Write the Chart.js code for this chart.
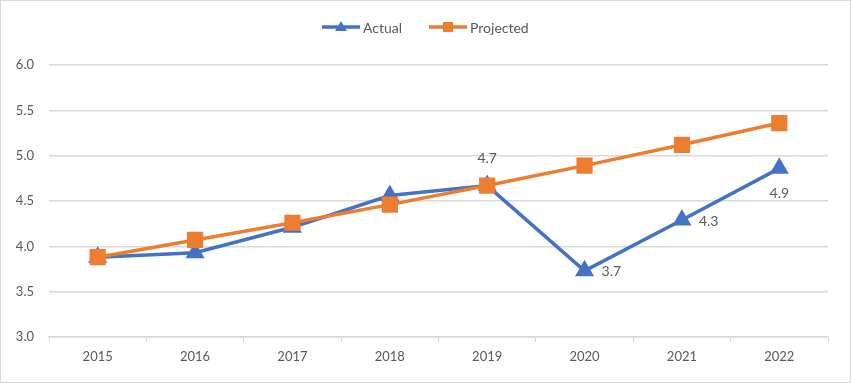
<!DOCTYPE html>
<html><head><meta charset="utf-8">
<script src="https://cdn.jsdelivr.net/npm/chart.js@4"></script>
<style>html,body{margin:0;padding:0;background:#fff}#wrap{width:851px;height:383px;position:relative}</style>
</head><body><div id="wrap"><canvas id="c" width="851" height="383"></canvas></div>
<script>
const categories = ['2015','2016','2017','2018','2019','2020','2021','2022'];
const actual = [3.88, 3.93, 4.21, 4.56, 4.67, 3.73, 4.29, 4.86];
const projected = [3.88, 4.07, 4.26, 4.46, 4.67, 4.89, 5.12, 5.36];
const actualLabels = [null, null, null, null, '4.7', '3.7', '4.3', '4.9'];
const labelPos = [null, null, null, null, 'above', 'right', 'right', 'below'];
const seriesNames = ['Actual', 'Projected'];

const BLUE = '#4472C4', ORANGE = '#ED7D31', TXT = '#595959', GRID = '#d9d9d9';
const FONT = 'Lato, "Open Sans", sans-serif';

const extras = {
  id: 'extras',
  afterDatasetsDraw(chart) {
    const ctx = chart.ctx;
    ctx.save();
    ctx.strokeStyle = GRID; ctx.lineWidth = 1;
    ctx.strokeRect(0.5, 0.5, chart.width - 1, chart.height - 1);
    ctx.fillStyle = TXT; ctx.font = '14px ' + FONT;
    const meta = chart.getDatasetMeta(0);
    actualLabels.forEach((t, i) => {
      if (!t) return;
      const p = meta.data[i];
      let x = p.x, y = p.y;
      if (labelPos[i] === 'above') { ctx.textAlign = 'center'; ctx.textBaseline = 'middle'; y -= 27; }
      else if (labelPos[i] === 'below') { ctx.textAlign = 'center'; ctx.textBaseline = 'middle'; y += 25; }
      else { ctx.textAlign = 'left'; ctx.textBaseline = 'middle'; x += 17; y += 1; }
      ctx.fillText(t, x, y);
    });
    const ly = 27;
    const items = [
      {name: seriesNames[0], color: BLUE, x: 322, shape: 'triangle'},
      {name: seriesNames[1], color: ORANGE, x: 429, shape: 'rect'}
    ];
    items.forEach(it => {
      ctx.strokeStyle = it.color; ctx.lineWidth = 3.5; ctx.lineCap = 'butt';
      ctx.beginPath(); ctx.moveTo(it.x, ly); ctx.lineTo(it.x + 38, ly); ctx.stroke();
      ctx.fillStyle = it.color;
      const cx = it.x + 19;
      if (it.shape === 'triangle') {
        ctx.beginPath(); ctx.moveTo(cx, ly - 6); ctx.lineTo(cx + 6, ly + 4); ctx.lineTo(cx - 6, ly + 4); ctx.closePath(); ctx.fill();
      } else {
        ctx.fillRect(cx - 5, ly - 5, 10, 10);
      }
      ctx.fillStyle = TXT; ctx.font = '14px ' + FONT; ctx.textAlign = 'left'; ctx.textBaseline = 'middle';
      ctx.fillText(it.name, it.x + 41, ly + 1);
    });
    ctx.restore();
  }
};

new Chart(document.getElementById('c'), {
  type: 'line',
  data: {
    labels: categories,
    datasets: [
      {label: seriesNames[0], data: actual, borderColor: BLUE, backgroundColor: BLUE, borderWidth: 3.5,
       pointStyle: 'triangle', pointRadius: 7.5, pointHoverRadius: 7.5, tension: 0, order: 2},
      {label: seriesNames[1], data: projected, borderColor: ORANGE, backgroundColor: ORANGE, borderWidth: 3.5,
       pointStyle: 'rect', pointRadius: 9, pointHoverRadius: 9, tension: 0, order: 1}
    ]
  },
  options: {
    responsive: false, animation: false, devicePixelRatio: 1,
    layout: {padding: {top: 65, right: 23, left: 0, bottom: 0}},
    plugins: {legend: {display: false}, tooltip: {enabled: false}},
    scales: {
      x: {
        offset: true,
        afterFit(s) { s.height = 46; },
        grid: {drawOnChartArea: false, drawTicks: true, tickLength: 5, offset: true, color: GRID},
        border: {color: GRID, width: 1.5},
        ticks: {color: TXT, font: {family: FONT, size: 13}, padding: 7}
      },
      y: {
        min: 3, max: 6,
        afterFit(s) { s.width = 49; },
        grid: {color: GRID, drawTicks: false, lineWidth: 1.5},
        border: {display: false},
        ticks: {stepSize: 0.5, color: TXT, font: {family: FONT, size: 13}, padding: 15,
                callback: v => Number(v).toFixed(1)}
      }
    }
  },
  plugins: [extras]
});
</script></body></html>
